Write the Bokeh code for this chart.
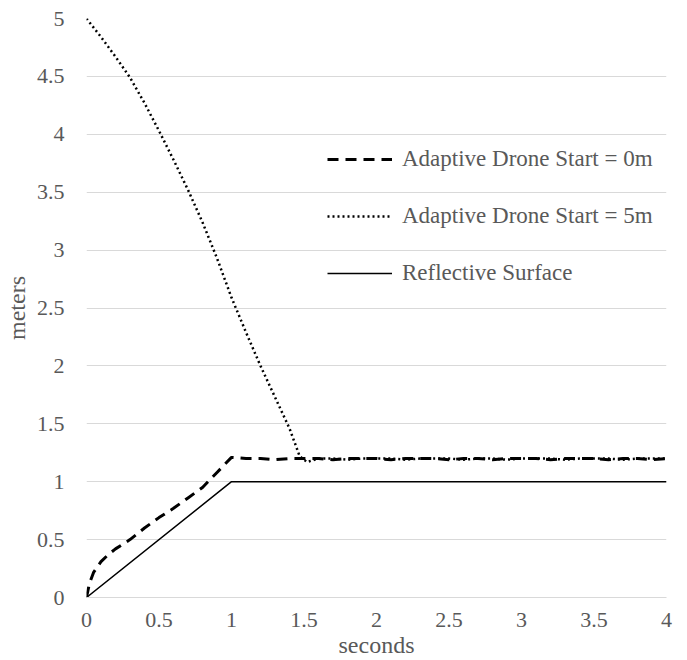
from bokeh.plotting import figure
from bokeh.models import Range1d, FixedTicker, Legend, LegendItem
from bokeh.embed import file_html
from bokeh.resources import INLINE

# ---- data ----
t_start0 = [0.0, 0.02, 0.05, 0.1, 0.15, 0.2, 0.3, 0.4, 0.5, 0.6, 0.7, 0.8, 0.9, 1.0,
            1.1, 1.2, 1.3, 1.4, 1.5, 1.6, 1.7, 1.8, 1.9, 2.0, 2.1, 2.2, 2.3, 2.4, 2.5,
            2.6, 2.7, 2.8, 2.9, 3.0, 3.1, 3.2, 3.3, 3.4, 3.5, 3.6, 3.7, 3.8, 3.9, 4.0]
y_start0 = [0.0, 0.12, 0.22, 0.31, 0.37, 0.42, 0.5, 0.6, 0.69, 0.77, 0.86, 0.95, 1.08, 1.21,
            1.2, 1.2, 1.19, 1.2, 1.2, 1.2, 1.19, 1.2, 1.2, 1.2, 1.19, 1.2, 1.2, 1.2, 1.19,
            1.2, 1.2, 1.19, 1.2, 1.2, 1.2, 1.19, 1.2, 1.2, 1.2, 1.19, 1.2, 1.2, 1.19, 1.2]

t_start5 = [0.0, 0.1, 0.2, 0.3, 0.4, 0.5, 0.6, 0.7, 0.8, 0.9, 1.0, 1.1, 1.2, 1.3, 1.4,
            1.47, 1.52, 1.6, 1.7, 1.8, 1.9, 2.0, 2.1, 2.2, 2.3, 2.4, 2.5, 2.6, 2.7, 2.8,
            2.9, 3.0, 3.1, 3.2, 3.3, 3.4, 3.5, 3.6, 3.7, 3.8, 3.9, 4.0]
y_start5 = [5.0, 4.84, 4.67, 4.49, 4.27, 4.03, 3.78, 3.52, 3.24, 2.93, 2.59, 2.29, 2.0, 1.73, 1.46,
            1.22, 1.17, 1.2, 1.2, 1.19, 1.2, 1.2, 1.2, 1.19, 1.2, 1.2, 1.2, 1.19, 1.2, 1.2,
            1.19, 1.2, 1.2, 1.2, 1.19, 1.2, 1.2, 1.2, 1.19, 1.2, 1.2, 1.2]

t_surface = [0.0, 1.0, 4.0]
y_surface = [0.0, 1.0, 1.0]

x_ticks = [0, 0.5, 1, 1.5, 2, 2.5, 3, 3.5, 4]
x_tick_labels = ["0", "0.5", "1", "1.5", "2", "2.5", "3", "3.5", "4"]
y_ticks = [0, 0.5, 1, 1.5, 2, 2.5, 3, 3.5, 4, 4.5, 5]
y_tick_labels = ["0", "0.5", "1", "1.5", "2", "2.5", "3", "3.5", "4", "4.5", "5"]

series_labels = ["Adaptive Drone Start = 0m", "Adaptive Drone Start = 5m", "Reflective Surface"]
x_title = "seconds"
y_title = "meters"

FONT = "Liberation Serif"
GRAY = "#595959"

p = figure(width=687, height=660, output_backend="svg", toolbar_location=None,
           x_range=Range1d(0, 4), y_range=Range1d(0, 5),
           min_border_left=86, min_border_right=21, min_border_top=18, min_border_bottom=63)
p.outline_line_color = None
p.background_fill_color = "white"
p.border_fill_color = "white"

p.xgrid.grid_line_color = None
p.ygrid.grid_line_color = "#d9d9d9"
p.ygrid.grid_line_width = 1
p.ygrid.ticker = FixedTicker(ticks=y_ticks)

p.xaxis.ticker = FixedTicker(ticks=x_ticks)
p.yaxis.ticker = FixedTicker(ticks=y_ticks)
p.xaxis.major_label_overrides = {float(k) if k != int(k) else int(k): v for k, v in zip(x_ticks, x_tick_labels)}
p.yaxis.major_label_overrides = {float(k) if k != int(k) else int(k): v for k, v in zip(y_ticks, y_tick_labels)}

for ax in (p.xaxis, p.yaxis):
    ax.major_tick_line_color = None
    ax.minor_tick_line_color = None
    ax.major_tick_out = 0
    ax.major_tick_in = 0
    ax.major_label_text_font = FONT
    ax.major_label_text_font_size = "22px"
    ax.major_label_text_color = GRAY
    ax.axis_label_text_font = FONT
    ax.axis_label_text_font_size = "24px"
    ax.axis_label_text_color = GRAY
    ax.axis_label_text_font_style = "normal"

p.xaxis.axis_line_color = "#d9d9d9"
p.yaxis.axis_line_color = None
p.xaxis.major_label_standoff = 15
p.yaxis.major_label_standoff = 22
p.xaxis.axis_label = x_title
p.yaxis.axis_label = y_title
p.xaxis.axis_label_standoff = 2
p.yaxis.axis_label_standoff = 4

r_surface = p.line(t_surface, y_surface, line_color="black", line_width=1.5)
r_start0 = p.line(t_start0, y_start0, line_color="black", line_width=3, line_dash="11 7")
r_start5 = p.line(t_start5, y_start5, line_color="black", line_width=2.5, line_dash="2 3")

legend = Legend(items=[
    LegendItem(label=series_labels[0], renderers=[r_start0]),
    LegendItem(label=series_labels[1], renderers=[r_start5]),
    LegendItem(label=series_labels[2], renderers=[r_surface]),
], location=(241, 309))
legend.background_fill_alpha = 0
legend.border_line_color = None
legend.padding = 0
legend.margin = 0
legend.glyph_width = 65
legend.glyph_height = 30
legend.label_height = 30
legend.spacing = 27
legend.label_standoff = 10
legend.label_text_font = FONT
legend.label_text_font_size = "23px"
legend.label_text_color = GRAY
p.add_layout(legend)

open("out.html", "w").write(file_html(p, INLINE))
